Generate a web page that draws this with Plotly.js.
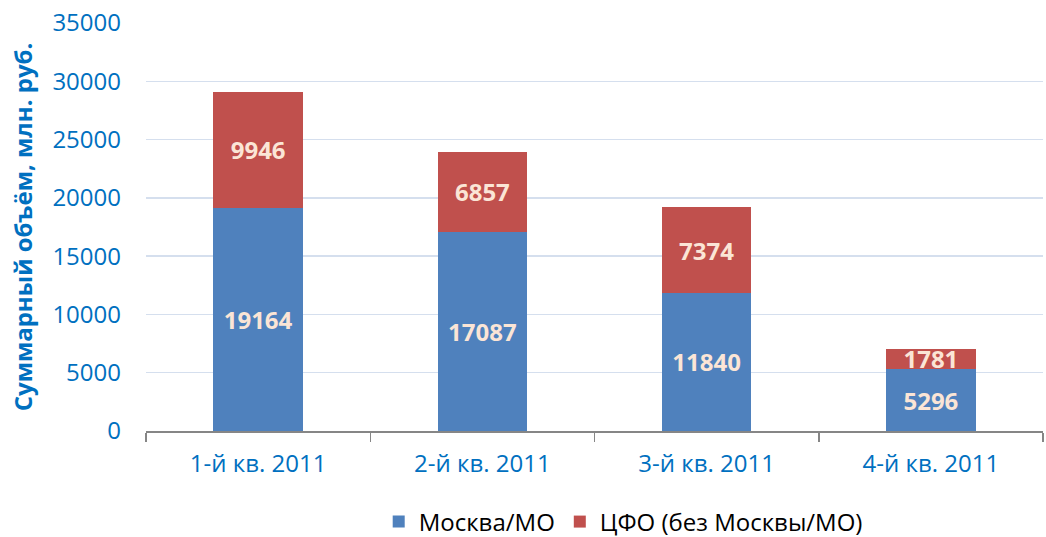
<!DOCTYPE html>
<html>
<head>
<meta charset="utf-8">
<script src="https://cdn.plot.ly/plotly-3.0.1.min.js"></script>
<style>html,body{margin:0;padding:0;background:#fff;}#chart{width:1046px;height:537px;}</style>
</head>
<body>
<div id="chart"></div>
<script>
const categories = ["1-й кв. 2011", "2-й кв. 2011", "3-й кв. 2011", "4-й кв. 2011"];
const moscow = [19164, 17087, 11840, 5296];
const cfo = [9946, 6857, 7374, 1781];
const seriesNames = ["Москва/МО", "ЦФО (без Москвы/МО)"];
const yTicks = [0, 5000, 10000, 15000, 20000, 25000, 30000, 35000];

const font = "Open Sans, Calibri, sans-serif";
const labelFont = {family: font, size: 24, color: "#FBE5D6", weight: "bold"};

const traces = [
  {type: "bar", name: seriesNames[0], x: categories, y: moscow,
   marker: {color: "#4F81BD"}, text: moscow.map(String), texttemplate: "<b>%{text}</b>",
   textposition: "inside", insidetextanchor: "middle", constraintext: "none",
   textfont: labelFont, hoverinfo: "x+y"},
  {type: "bar", name: seriesNames[1], x: categories, y: cfo,
   marker: {color: "#C0504D"}, text: cfo.map(String), texttemplate: "<b>%{text}</b>",
   textposition: "inside", insidetextanchor: "middle", constraintext: "none",
   textfont: labelFont, hoverinfo: "x+y"}
];

const layout = {
  width: 1046, height: 537,
  barmode: "stack", bargap: 0.6,
  margin: {l: 146, r: 3, t: 23, b: 106, autoexpand: false},
  paper_bgcolor: "#fff", plot_bgcolor: "#fff",
  font: {family: font, color: "#0070C0", size: 24},
  showlegend: true,
  legend: {orientation: "h", x: 0.532, xanchor: "center", y: -0.223, yanchor: "middle",
           font: {family: font, size: 24, color: "#000"}, traceorder: "normal", itemwidth: 30},
  xaxis: {type: "category", showgrid: false, showline: true, linecolor: "#868686", linewidth: 1.5,
          ticks: "outside", tickson: "boundaries", ticklen: 9, tickcolor: "#868686", tickwidth: 1.5,
          automargin: false,
          tickfont: {family: font, size: 24, color: "#0070C0"}, ticklabelstandoff: 11},
  yaxis: {range: [0, 35000], tickvals: yTicks, ticktext: yTicks.map(String), automargin: false,
          showgrid: true, gridcolor: "#D5DFEE", gridwidth: 1.5, zeroline: false, showline: false,
          tickfont: {family: font, size: 24, color: "#0070C0"}, ticklabelstandoff: 24,
          title: {text: "Суммарный объём, млн. руб.", font: {family: font, size: 24, color: "#0070C0", weight: "bold"}, standoff: 12}}
};

Plotly.newPlot("chart", traces, layout, {displayModeBar: false, staticPlot: true});
</script>
</body>
</html>
